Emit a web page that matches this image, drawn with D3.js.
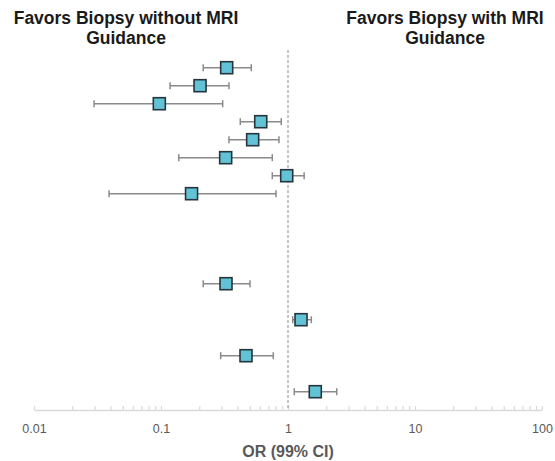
<!DOCTYPE html>
<html>
<head>
<meta charset="utf-8">
<script src="https://cdn.jsdelivr.net/npm/d3@7"></script>
<style>
  body { margin: 0; background: #fff; }
  svg { display: block; font-family: "Liberation Sans", Arial, sans-serif; }
</style>
</head>
<body>
<div id="chart"></div>
<script>
// row slot of each estimate (blank slots are unlabelled group gaps)
var slots = [0, 1, 2, 3, 4, 5, 6, 7, 12, 14, 16, 18];
var oddsRatio = [0.329, 0.203, 0.097, 0.610, 0.527, 0.323, 0.977, 0.174, 0.325, 1.266, 0.467, 1.64];
var ciLow = [0.215, 0.118, 0.0297, 0.421, 0.343, 0.138, 0.752, 0.039, 0.215, 1.089, 0.295, 1.12];
var ciHigh = [0.514, 0.343, 0.306, 0.885, 0.849, 0.752, 1.34, 0.805, 0.502, 1.526, 0.766, 2.42];
var tickLabels = [0.01, 0.1, 1, 10, 100];
var leftTitle = ["Favors Biopsy without MRI", "Guidance"];
var rightTitle = ["Favors Biopsy with MRI", "Guidance"];

var width = 555, height = 461;
var axisY = 410;

var svg = d3.select("#chart").append("svg")
	.attr("width", width)
	.attr("height", height);

var x = d3.scaleLog().domain([0.01, 100]).range([34, 542]);
var y = d3.scaleLinear().domain([0, 18]).range([67.7, 391.7]);

var rows = slots.map(function(s, i) {
	return {slot: s, or: oddsRatio[i], lo: ciLow[i], hi: ciHigh[i]};
});

// titles
function drawTitle(lines, cx) {
	var t = svg.append("text")
		.attr("text-anchor", "middle")
		.style("font-size", "17.5px")
		.style("font-weight", "bold")
		.style("fill", "#1a1a1a");
	lines.forEach(function(l, i) {
		t.append("tspan").attr("x", cx).attr("y", 23.5 + i * 20).text(l);
	});
}
drawTitle(leftTitle, 126);
drawTitle(rightTitle, 445);

// axis
var allTicks = x.ticks();
var axis = d3.axisBottom(x)
	.tickValues(allTicks)
	.tickSizeInner(-4)
	.tickSizeOuter(0)
	.tickPadding(14.5)
	.tickFormat(function(d) { return tickLabels.indexOf(d) >= 0 ? String(d) : ""; });

var gAxis = svg.append("g")
	.attr("transform", "translate(0," + axisY + ")")
	.call(axis);
gAxis.select(".domain").attr("stroke", "#d9d9d9").attr("stroke-width", 1.5);
gAxis.selectAll(".tick line").attr("stroke", "#d9d9d9").attr("stroke-width", 1.2);
gAxis.selectAll(".tick text")
	.style("font-size", "12.5px")
	.style("fill", "#595959")
	.style("font-family", "'Liberation Sans', Arial, sans-serif");

svg.append("text")
	.attr("x", x(1))
	.attr("y", 456.5)
	.attr("text-anchor", "middle")
	.style("font-size", "16px")
	.style("font-weight", "bold")
	.style("fill", "#595959")
	.text("OR (99% CI)");

// reference line at OR = 1
svg.append("line")
	.attr("x1", x(1)).attr("x2", x(1))
	.attr("y1", 50).attr("y2", axisY)
	.attr("stroke", "#8c8c8c")
	.attr("stroke-width", 1)
	.attr("stroke-dasharray", "3,2");

// error bars
var bars = svg.append("g").selectAll("g")
	.data(rows)
	.enter().append("g");

bars.append("line")
	.attr("x1", function(d) { return x(d.lo); })
	.attr("x2", function(d) { return x(d.hi); })
	.attr("y1", function(d) { return y(d.slot); })
	.attr("y2", function(d) { return y(d.slot); })
	.attr("stroke", "#8a8a8a")
	.attr("stroke-width", 1.5);

["lo", "hi"].forEach(function(k) {
	bars.append("line")
		.attr("x1", function(d) { return x(d[k]); })
		.attr("x2", function(d) { return x(d[k]); })
		.attr("y1", function(d) { return y(d.slot) - 3.5; })
		.attr("y2", function(d) { return y(d.slot) + 3.5; })
		.attr("stroke", "#8a8a8a")
		.attr("stroke-width", 1.5);
});

// point estimates
var sq = 12;
bars.append("rect")
	.attr("x", function(d) { return x(d.or) - sq / 2; })
	.attr("y", function(d) { return y(d.slot) - sq / 2; })
	.attr("width", sq)
	.attr("height", sq)
	.attr("fill", "#62c3d7")
	.attr("stroke", "#26353b")
	.attr("stroke-width", 1.6);
</script>
</body>
</html>
